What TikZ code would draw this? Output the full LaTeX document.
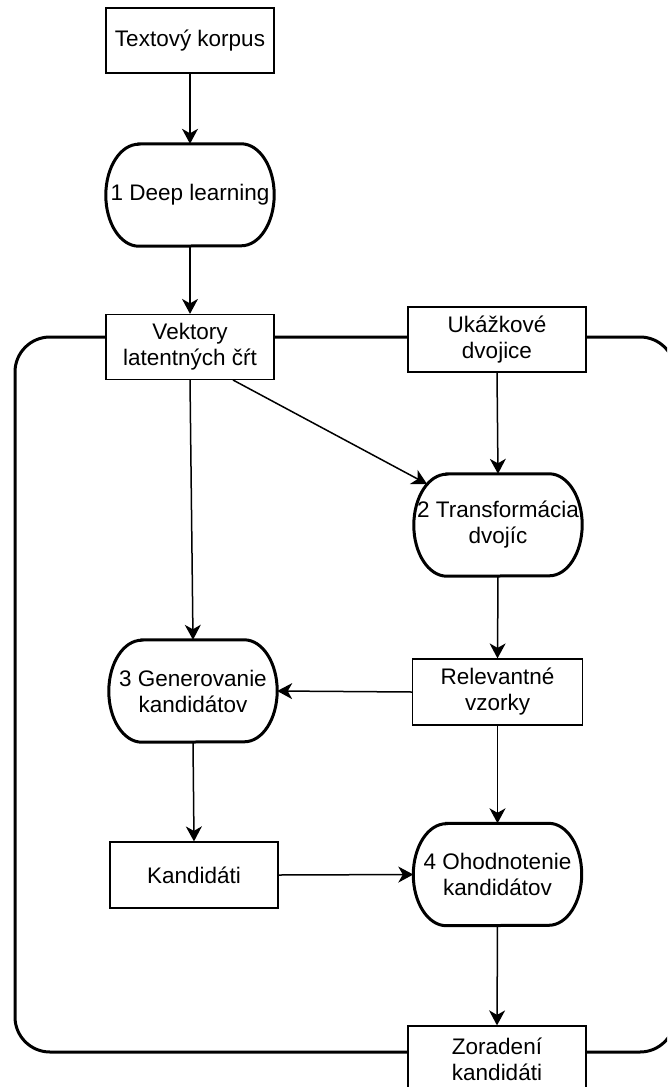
\documentclass[tikz,border=0pt]{standalone}
\usepackage{fontspec}
\setmainfont{Liberation Sans}
\usetikzlibrary{arrows.meta,calc}
\newcommand\drawstadium[1]{%
  \draw[line width=3pt] ([xshift=33pt]#1.north west) -- ([xshift=-33pt]#1.north east)
    arc[start angle=90,end angle=-90,x radius=33pt,y radius=51pt]
    -- ([xshift=33pt]#1.south west)
    arc[start angle=270,end angle=90,x radius=33pt,y radius=51pt] -- cycle;}
\begin{document}
\begin{tikzpicture}[x=1pt,y=1pt,
  txt/.style={font=\fontsize{22.5}{26}\selectfont, align=center, inner sep=0pt},
  box/.style={txt, draw, line width=1.2pt, fill=white, minimum width=168pt, minimum height=65pt},
  proc/.style={txt, minimum width=168pt, minimum height=102pt},
  conn/.style={line width=1.5pt, -{Stealth[length=15pt,width=16pt,inset=4.5pt]}},
  frame/.style={line width=3pt, rounded corners=35pt}
]
\useasboundingbox (0,0) rectangle (667,-1087);
\clip (0,0) rectangle (667,-1087);
\draw[frame] (15,-337) rectangle (675,-1052);

\node[box] (korpus) at (190,-40.5) {Textový korpus};
\node[proc] (deep) at (190,-195) {1 Deep learning};
\node[box] (vekt) at (190,-347) {Vektory\\latentných čŕt};
\node[box, minimum width=178pt] (ukaz) at (497,-339.5) {Ukážkové\\dvojice};
\node[proc] (trans) at (498,-525) {2 Transformácia\\dvojíc};
\node[proc] (gen) at (193,-691) {3 Generovanie\\kandidátov};
\node[box, minimum width=170pt, minimum height=66pt] (rel) at (497.5,-692) {Relevantné\\vzorky};
\node[box, minimum height=66pt] (kand) at (194,-875) {Kandidáti};
\node[proc] (ohod) at (497.5,-874.5) {4 Ohodnotenie\\kandidátov};
\node[box, minimum width=178pt, minimum height=66pt] (zor) at (497,-1059) {Zoradení\\kandidáti};

\drawstadium{deep}
\drawstadium{trans}
\drawstadium{gen}
\drawstadium{ohod}

\coordinate (transin) at (427,-484);
\coordinate (vektout) at (233,-380);

\draw[conn] (korpus.south) -- (deep.north);
\draw[conn] (deep.south) -- (vekt.north);
\draw[conn] (vekt.south) -- (gen.north);
\draw[conn] (vektout) -- (transin);
\draw[conn] (ukaz.south) -- (trans.north);
\draw[conn] (trans.south) -- (rel.north);
\draw[conn] (rel.west) -- (gen.east);
\draw[conn] (gen.south) -- (kand.north);
\draw[conn] (rel.south) -- (ohod.north);
\draw[conn] (kand.east) -- (ohod.west);
\draw[conn] (ohod.south) -- (zor.north);
\end{tikzpicture}
\end{document}
